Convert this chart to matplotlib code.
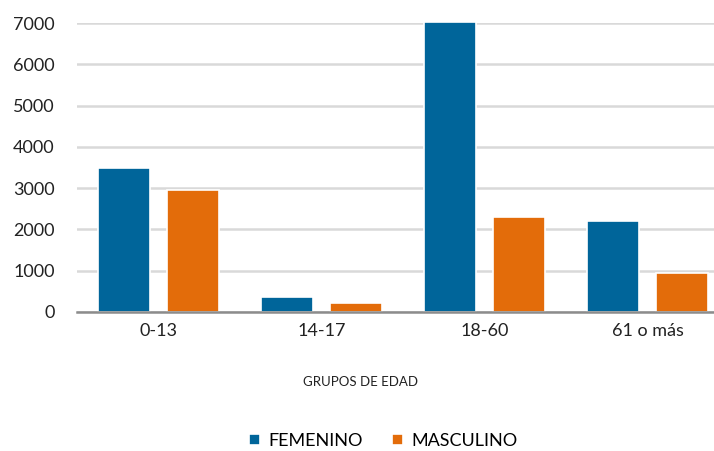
import numpy as np
import matplotlib
matplotlib.use("Agg")
import matplotlib.pyplot as plt

# datos
grupos = ["0-13", "14-17", "18-60", "61 o más"]
femenino = [3500, 360, 7020, 2200]
masculino = [2960, 220, 2300, 945]

azul = "#00659a"
naranja = "#e36c0a"

plt.rcParams["font.family"] = ["Lato", "DejaVu Sans"]

fig = plt.figure(figsize=(7.14, 4.51), dpi=100)
ax = fig.add_axes([77/714, (451-312)/451, 652/714, (312-23)/451])

x = np.arange(len(grupos))
ancho = 0.32
b1 = ax.bar(x - 0.21, femenino, ancho, color=azul, edgecolor="white", linewidth=1.2,
            label="FEMENINO", zorder=3, clip_on=False)
b2 = ax.bar(x + 0.21, masculino, ancho, color=naranja, edgecolor="white", linewidth=1.2,
            label="MASCULINO", zorder=3, clip_on=False)

ax.set_xlim(-0.5, 3.5)
ax.set_ylim(0, 7000)
ax.set_yticks(np.arange(0, 7001, 1000))
ax.set_xticks(x)
ax.set_xticklabels(grupos)
ax.tick_params(axis="both", length=0, labelsize=13, colors="#222222")
ax.tick_params(axis="y", pad=16)
ax.tick_params(axis="x", pad=8)

ax.yaxis.grid(True, color="#d9d9d9", linewidth=1.8, zorder=0)
ax.set_axisbelow(True)
for s in ["top", "right", "left"]:
    ax.spines[s].set_visible(False)
ax.spines["bottom"].set_color("#8c8c8c")
ax.spines["bottom"].set_linewidth(1.8)
ax.spines["bottom"].set_zorder(4)

fig.text(0.505, (451-382)/451, "GRUPOS DE EDAD", ha="center", va="center",
         fontsize=9.5, color="#222222")

fig.legend(handles=[b1, b2], loc="center", bbox_to_anchor=(0.537, (451-441)/451),
           ncol=2, frameon=False, fontsize=13, handlelength=0.6, handleheight=0.6,
           columnspacing=1.6, handletextpad=0.5)

fig.savefig("out.png", dpi=100)
